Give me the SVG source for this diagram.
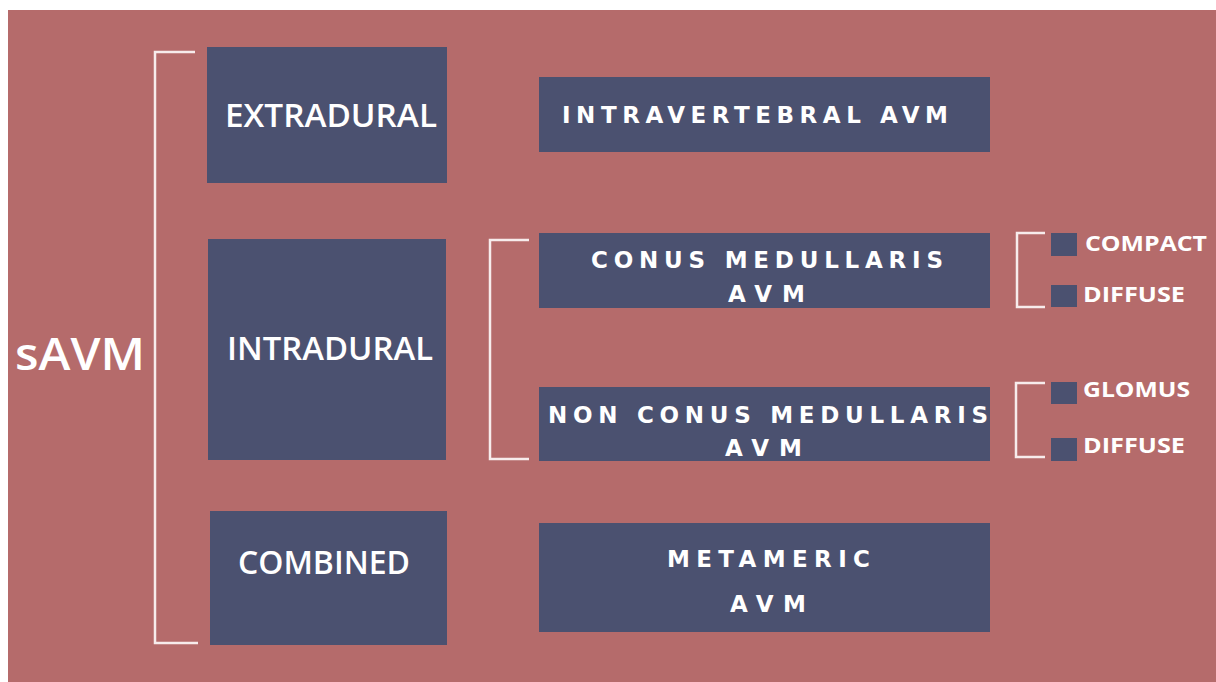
<svg xmlns="http://www.w3.org/2000/svg" width="1216" height="682" viewBox="0 0 1216 682">
<style>
.box{fill:#4b5170}
.br{fill:none;stroke:#f7ecec;stroke-width:2.5}
.lbl{fill:#ffffff;font-family:"Open Sans","Liberation Sans",sans-serif;font-weight:600}
.big{font-size:32px}
.sp{font-family:"DejaVu Sans","Liberation Sans",sans-serif;font-size:23px;font-weight:700}
.sm{font-size:22px;font-weight:700}
</style>
<rect x="0" y="0" width="1216" height="682" fill="#ffffff"/>
<rect x="8" y="10" width="1208" height="672" fill="#b56b6b"/>
<g id="connectors">
<path class="br" d="M195,52 H155 V643 H198"/>
<path class="br" d="M529,240 H490 V459 H529"/>
<path class="br" d="M1045,233 H1017 V307 H1045"/>
<path class="br" d="M1045,383 H1016 V457 H1045"/>
</g>
<g id="savm"><text class="lbl" x="15" y="370" font-size="45" font-weight="800" textLength="130" lengthAdjust="spacingAndGlyphs">sAVM</text></g>
<g id="extradural"><rect class="box" x="207" y="47" width="240" height="136"/><text class="lbl big" x="225" y="127" textLength="212" lengthAdjust="spacingAndGlyphs">EXTRADURAL</text></g>
<g id="intradural"><rect class="box" x="208" y="239" width="238" height="221"/><text class="lbl big" x="227" y="360" textLength="206" lengthAdjust="spacingAndGlyphs">INTRADURAL</text></g>
<g id="combined"><rect class="box" x="210" y="511" width="237" height="134"/><text class="lbl big" x="238" y="574" font-size="31" textLength="172" lengthAdjust="spacingAndGlyphs">COMBINED</text></g>
<g id="intravertebral"><rect class="box" x="539" y="77" width="451" height="75"/><text class="lbl sp" x="562" y="123" textLength="386" lengthAdjust="spacing">INTRAVERTEBRAL AVM</text></g>
<g id="conus"><rect class="box" x="539" y="233" width="451" height="75"/><text class="lbl sp" x="591" y="268" textLength="352" lengthAdjust="spacing">CONUS MEDULLARIS</text><text class="lbl sp" x="728" y="302" textLength="77" lengthAdjust="spacing">AVM</text></g>
<g id="nonconus"><rect class="box" x="539" y="387" width="451" height="74"/><text class="lbl sp" x="548" y="423" textLength="440" lengthAdjust="spacing">NON CONUS MEDULLARIS</text><text class="lbl sp" x="725" y="456" textLength="77" lengthAdjust="spacing">AVM</text></g>
<g id="metameric"><rect class="box" x="539" y="523" width="451" height="109"/><text class="lbl sp" x="667" y="567" textLength="203" lengthAdjust="spacing">METAMERIC</text><text class="lbl sp" x="730" y="612" textLength="76" lengthAdjust="spacing">AVM</text></g>
<g id="compact"><rect class="box" x="1051" y="233" width="26" height="23"/><text class="lbl sm" x="1085" y="251" textLength="122" lengthAdjust="spacingAndGlyphs">COMPACT</text></g>
<g id="diffuse1"><rect class="box" x="1051" y="285" width="26" height="22"/><text class="lbl sm" x="1083" y="302" textLength="102" lengthAdjust="spacingAndGlyphs">DIFFUSE</text></g>
<g id="glomus"><rect class="box" x="1051" y="382" width="26" height="22"/><text class="lbl sm" x="1083" y="397" textLength="107" lengthAdjust="spacingAndGlyphs">GLOMUS</text></g>
<g id="diffuse2"><rect class="box" x="1051" y="438" width="26" height="23"/><text class="lbl sm" x="1083" y="453" textLength="102" lengthAdjust="spacingAndGlyphs">DIFFUSE</text></g>
</svg>
